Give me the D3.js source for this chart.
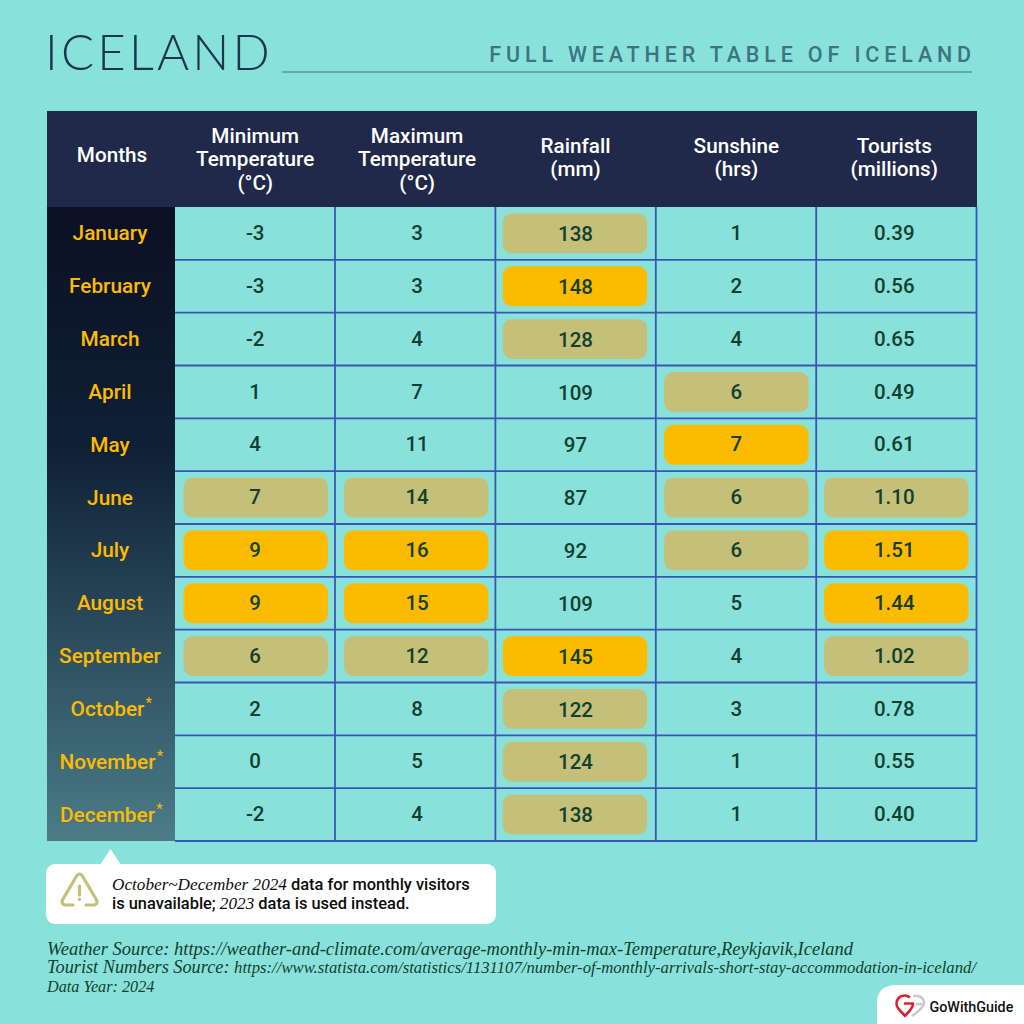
<!DOCTYPE html>
<html>
<head>
<meta charset="utf-8">
<script src="https://cdn.jsdelivr.net/npm/d3@7"></script>
<style>
html, body { margin: 0; padding: 0; background: #88e2db; }
svg { display: block; }
text { font-family: Roboto, sans-serif; }
</style>
</head>
<body>
<svg id="chart" width="1024" height="1024"></svg>
<script>
// hi: which cells get a highlight, 1 = khaki, 2 = gold
var rows = [
    {month: "January",   star: false, min: "-3", max: "3",  rain: "138", sun: "1", tourists: "0.39", hi: {rain: 1}},
    {month: "February",  star: false, min: "-3", max: "3",  rain: "148", sun: "2", tourists: "0.56", hi: {rain: 2}},
    {month: "March",     star: false, min: "-2", max: "4",  rain: "128", sun: "4", tourists: "0.65", hi: {rain: 1}},
    {month: "April",     star: false, min: "1",  max: "7",  rain: "109", sun: "6", tourists: "0.49", hi: {sun: 1}},
    {month: "May",       star: false, min: "4",  max: "11", rain: "97",  sun: "7", tourists: "0.61", hi: {sun: 2}},
    {month: "June",      star: false, min: "7",  max: "14", rain: "87",  sun: "6", tourists: "1.10", hi: {min: 1, max: 1, sun: 1, tourists: 1}},
    {month: "July",      star: false, min: "9",  max: "16", rain: "92",  sun: "6", tourists: "1.51", hi: {min: 2, max: 2, sun: 1, tourists: 2}},
    {month: "August",    star: false, min: "9",  max: "15", rain: "109", sun: "5", tourists: "1.44", hi: {min: 2, max: 2, tourists: 2}},
    {month: "September", star: false, min: "6",  max: "12", rain: "145", sun: "4", tourists: "1.02", hi: {min: 1, max: 1, rain: 2, tourists: 1}},
    {month: "October",   star: true,  min: "2",  max: "8",  rain: "122", sun: "3", tourists: "0.78", hi: {rain: 1}},
    {month: "November",  star: true,  min: "0",  max: "5",  rain: "124", sun: "1", tourists: "0.55", hi: {rain: 1}},
    {month: "December",  star: true,  min: "-2", max: "4",  rain: "138", sun: "1", tourists: "0.40", hi: {rain: 1}}
];

// dx nudges the text, box nudges the highlight, dy the value baseline
var columns = [
    {key: "min",      dx: 0,    box: 0,    dy: 0, head: ["Minimum", "Temperature", "(°C)"]},
    {key: "max",      dx: 1.5,  box: 0,    dy: 0, head: ["Maximum", "Temperature", "(°C)"]},
    {key: "rain",     dx: -0.5, box: -1.5, dy: 1, head: ["Rainfall", "(mm)"]},
    {key: "sun",      dx: 0,    box: -0.5, dy: 0, head: ["Sunshine", "(hrs)"]},
    {key: "tourists", dx: -2.5, box: -1,   dy: 0, head: ["Tourists", "(millions)"]}
];

var hiColors = {1: "#c4c07a", 2: "#fdbb00"};
var lineColor = "#3a56b4";
var inkColor = "#123f2e";

var svg = d3.select("#chart");

var xScale = d3.scaleBand()
    .domain(columns.map(function(c){return c.key}))
    .range([175, 977]);

var yScale = d3.scaleBand()
    .domain(rows.map(function(r){return r.month}))
    .range([207, 841]);

// title block
svg.append("text")
    .attr("x", 45).attr("y", 70)
    .style("font-family", "Lato")
    .style("font-weight", 300)
    .style("font-size", "49px")
    .style("letter-spacing", "3.2px")
    .style("fill", "#1c3550")
    .text("ICELAND");

svg.append("line")
    .attr("x1", 282).attr("x2", 972)
    .attr("y1", 72).attr("y2", 72)
    .style("stroke", "#3d7480")
    .style("stroke-width", 1.2);

svg.append("text")
    .attr("x", 976).attr("y", 62)
    .attr("text-anchor", "end")
    .style("font-weight", 500)
    .style("font-size", "21.5px")
    .style("letter-spacing", "4.85px")
    .style("fill", "#3d7480")
    .text("FULL WEATHER TABLE OF ICELAND");

// header
svg.append("rect")
    .attr("x", 47).attr("y", 111)
    .attr("width", 930).attr("height", 96)
    .style("fill", "#202949");

var headText = function(x, top, lines)
{
    svg.append("g").selectAll("text")
    .data(lines)
    .enter()
    .append("text")
    .attr("x", x)
    .attr("y", function(d, i){return top + i * 23.5})
    .attr("text-anchor", "middle")
    .style("font-weight", 500)
    .style("font-size", "20.7px")
    .style("fill", "#ffffff")
    .text(function(d){return d})
}

headText(112, 162, ["Months"]);
columns.forEach(function(c)
{
    var top = c.head.length == 3 ? 142.5 : 152.5;
    headText(xScale(c.key) + xScale.bandwidth() / 2 + c.dx, top, c.head);
});

// month column
var grad = svg.append("defs").append("linearGradient")
    .attr("id", "monthFill")
    .attr("x1", 0).attr("x2", 0).attr("y1", 0).attr("y2", 1);
grad.append("stop").attr("offset", "0%").attr("stop-color", "#0b1023");
grad.append("stop").attr("offset", "38%").attr("stop-color", "#0f2036");
grad.append("stop").attr("offset", "100%").attr("stop-color", "#4b7c88");

svg.append("rect")
    .attr("x", 47).attr("y", 207)
    .attr("width", 128).attr("height", 634)
    .style("fill", "url(#monthFill)");

var monthRows = svg.append("g").selectAll("g")
    .data(rows)
    .enter()
    .append("g")
    .attr("transform", function(r){return "translate(0," + (yScale(r.month) + yScale.bandwidth() / 2 + 7) + ")"});

monthRows.append("text")
    .attr("x", function(r){return r.star ? 107.5 : 110})
    .attr("text-anchor", "middle")
    .style("font-weight", 500)
    .style("font-size", "20.8px")
    .style("fill", "#fdbb00")
    .text(function(r){return r.month})
    .each(function(r)
    {
        if (r.star)
        {
            var box = this.getBBox();
            d3.select(this.parentNode).append("text")
            .attr("x", box.x + box.width + 0.5)
            .attr("y", -8)
            .style("font-size", "15px")
            .style("fill", "#fdbb00")
            .text("*");
        }
    });

// highlights, one rounded box per flagged cell
var cells = [];
rows.forEach(function(r)
{
    columns.forEach(function(c)
    {
        cells.push({month: r.month, col: c, value: r[c.key], hi: r.hi[c.key]});
    });
});

svg.append("g").selectAll("rect")
    .data(cells.filter(function(c){return c.hi}))
    .enter()
    .append("rect")
    .attr("x", function(c){return xScale(c.col.key) + 8.5 + c.col.box})
    .attr("y", function(c){return yScale(c.month) + 6.5})
    .attr("width", xScale.bandwidth() - 16)
    .attr("height", yScale.bandwidth() - 13)
    .attr("rx", 9)
    .style("fill", function(c){return hiColors[c.hi]});

// grid
var grid = svg.append("g")
    .style("stroke", lineColor)
    .style("stroke-width", 1.8);

grid.selectAll("line.h")
    .data(rows.slice(1).map(function(r){return yScale(r.month)}).concat([841]))
    .enter()
    .append("line")
    .attr("x1", 175).attr("x2", 977)
    .attr("y1", function(d){return d})
    .attr("y2", function(d){return d});

grid.selectAll("line.v")
    .data(columns.slice(1).map(function(c){return xScale(c.key) - 0.4}).concat([976.5]))
    .enter()
    .append("line")
    .attr("x1", function(d){return d})
    .attr("x2", function(d){return d})
    .attr("y1", 207).attr("y2", 841);

// cell values
svg.append("g").selectAll("text")
    .data(cells)
    .enter()
    .append("text")
    .attr("x", function(c){return xScale(c.col.key) + xScale.bandwidth() / 2 + c.col.dx})
    .attr("y", function(c){return yScale(c.month) + yScale.bandwidth() / 2 + 6.7 + c.col.dy})
    .attr("text-anchor", "middle")
    .style("font-weight", 500)
    .style("font-size", "20.5px")
    .style("fill", inkColor)
    .text(function(c){return c.value});

// note box
svg.append("path")
    .attr("d", d3.line()([[100, 865], [110.5, 849], [121, 865]]))
    .style("fill", "#ffffff");

svg.append("rect")
    .attr("x", 46).attr("y", 864)
    .attr("width", 450).attr("height", 60)
    .attr("rx", 9)
    .style("fill", "#ffffff");

var icon = svg.append("g")
    .style("fill", "none")
    .style("stroke", "#c4c07a")
    .style("stroke-width", 3.2)
    .style("stroke-linecap", "round")
    .style("stroke-linejoin", "round");

icon.append("path").attr("d", "M73 905 H66 C62 905 61 902 63 899 L76 877 C78 873 81 873 83 877 L96 899 C98 902 97 905 93 905 H86");
icon.append("line").attr("x1", 79.5).attr("x2", 79.5).attr("y1", 886).attr("y2", 895);
icon.append("line").attr("x1", 79.5).attr("x2", 79.5).attr("y1", 899).attr("y2", 899.5);

var noteLines = [
    {y: 890, parts: [{t: "October~December 2024", serif: true}, {t: " data for monthly visitors"}]},
    {y: 909, parts: [{t: "is unavailable; "}, {t: "2023", serif: true}, {t: " data is used instead."}]}
];

noteLines.forEach(function(line)
{
    var txt = svg.append("text")
        .attr("x", 112).attr("y", line.y)
        .style("fill", "#0d0d0d");
    txt.selectAll("tspan")
    .data(line.parts)
    .enter()
    .append("tspan")
    .style("font-family", function(p){return p.serif ? "'Liberation Serif'" : "Roboto"})
    .style("font-style", function(p){return p.serif ? "italic" : "normal"})
    .style("font-weight", function(p){return p.serif ? 400 : 500})
    .style("font-size", function(p){return p.serif ? "17.2px" : "16.4px"})
    .text(function(p){return p.t});
});

// sources
var sources = [
    {y: 955, size: 18.5, parts: [{t: "Weather Source: https://weather-and-climate.com/average-monthly-min-max-Temperature,Reykjavik,Iceland"}]},
    {y: 973, size: 18.3, parts: [{t: "Tourist Numbers Source: "}, {t: "https://www.statista.com/statistics/1131107/number-of-monthly-arrivals-short-stay-accommodation-in-iceland/", size: 16.72}]},
    {y: 992, size: 16.2, parts: [{t: "Data Year: 2024"}]}
];

sources.forEach(function(s)
{
    var txt = svg.append("text")
        .attr("x", 47).attr("y", s.y)
        .style("font-family", "'Liberation Serif'")
        .style("font-style", "italic")
        .style("fill", inkColor);
    txt.selectAll("tspan")
    .data(s.parts)
    .enter()
    .append("tspan")
    .style("font-family", "'Liberation Serif'")
    .style("font-size", function(p){return (p.size || s.size) + "px"})
    .text(function(p){return p.t});
});

// logo tab, bottom right
svg.append("path")
    .attr("d", "M877 1024 V1003 Q877 985 897 985 H1024 V1024 Z")
    .style("fill", "#ffffff");

var logo = svg.append("g")
    .style("fill", "none")
    .style("stroke-width", 2.6)
    .style("stroke-linejoin", "round");
logo.append("path")
    .attr("d", "M913 996 H917 C921 996 924 999 924 1003 C924 1008 917 1012 912 1016 M916 1004 H922")
    .style("stroke", "#c9c9cd");
logo.append("path")
    .attr("d", "M910 997.5 C908 996 906 995.5 904.5 995.5 C899.5 995.5 896.5 999.5 896.5 1003.5 C896.5 1009 902 1012 905 1016 C908 1012 913 1009 913 1003.5 H904")
    .style("stroke", "#d8232f");

svg.append("text")
    .attr("x", 929.5).attr("y", 1012)
    .style("font-weight", 500)
    .style("font-size", "14.3px")
    .style("fill", "#111111")
    .text("GoWithGuide");
</script>
</body>
</html>
